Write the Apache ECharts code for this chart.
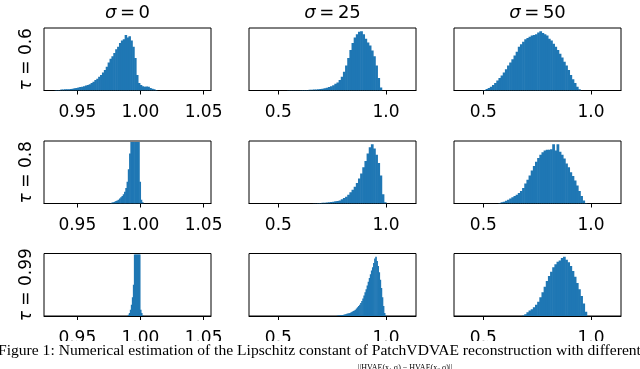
<!DOCTYPE html>
<html>
<head>
<meta charset="utf-8">
<script src="https://cdn.jsdelivr.net/npm/echarts@6/dist/echarts.min.js"></script>
<style>
  html, body { margin: 0; padding: 0; background: #fff; }
  #chart { width: 640px; height: 369px; }
</style>
</head>
<body>
<div id="chart"></div>
<script>
// column headers (sigma) and row labels (tau)
var sigmaLabels = ['0', '25', '50'];
var tauLabels = ['0.6', '0.8', '0.99'];

// x range and ticks per column
var xRanges = [[0.9236, 1.0559], [0.3634, 1.1397], [0.3634, 1.1397]];
var xTicks = [[0.95, 1.00, 1.05], [0.5, 1.0], [0.5, 1.0]];

// histograms: first bin edge, bin width, heights (box height = 1)
// tau = 0.6
var h11Start = 0.932, h11Bin = 0.0015;
var h11 = [0.01, 0.01, 0.01, 0.015, 0.015, 0.02, 0.02, 0.02, 0.025, 0.03,
  0.035, 0.04, 0.05, 0.055, 0.06, 0.07, 0.08, 0.09, 0.10, 0.12,
  0.14, 0.17, 0.19, 0.22, 0.25, 0.29, 0.33, 0.38, 0.45, 0.51,
  0.55, 0.60, 0.66, 0.70, 0.76, 0.80, 0.82, 0.89, 0.85, 0.87,
  0.80, 0.70, 0.52, 0.25, 0.12, 0.09, 0.07, 0.06, 0.065, 0.06,
  0.04, 0.03, 0.02, 0.01];
var h12Start = 0.54, h12Bin = 0.01;
var h12 = [0.003, 0.003, 0.004, 0.005, 0.005, 0.006, 0.007, 0.008, 0.009, 0.01,
  0.012, 0.014, 0.016, 0.018, 0.02, 0.025, 0.03, 0.035, 0.045, 0.055,
  0.07, 0.085, 0.11, 0.13, 0.17, 0.22, 0.30, 0.40, 0.52, 0.65,
  0.76, 0.85, 0.90, 0.94, 0.95, 0.90, 0.83, 0.77, 0.72, 0.64,
  0.55, 0.40, 0.20, 0.05];
var h13Start = 0.49, h13Bin = 0.01;
var h13 = [0.005, 0.01, 0.025, 0.04, 0.06, 0.09, 0.12, 0.16, 0.20, 0.24,
  0.29, 0.34, 0.40, 0.45, 0.50, 0.56, 0.62, 0.70, 0.74, 0.78,
  0.82, 0.84, 0.86, 0.88, 0.89, 0.90, 0.93, 0.95, 0.92, 0.90,
  0.88, 0.83, 0.80, 0.75, 0.70, 0.65, 0.59, 0.53, 0.46, 0.40,
  0.33, 0.25, 0.18, 0.12, 0.06, 0.02];
// tau = 0.8
var h21Start = 0.976, h21Bin = 0.001;
var h21 = [0.01, 0.015, 0.02, 0.03, 0.04, 0.05, 0.06, 0.08, 0.10, 0.12,
  0.15, 0.19, 0.25, 0.35, 0.55, 0.80, 1.2, 1.6, 1.9, 2.0,
  1.9, 1.6, 1.1, 0.35, 0.06, 0.02];
var h22Start = 0.66, h22Bin = 0.01;
var h22 = [0.003, 0.005, 0.007, 0.009, 0.011, 0.013, 0.016, 0.02, 0.025, 0.03,
  0.035, 0.04, 0.05, 0.07, 0.09, 0.11, 0.14, 0.18, 0.22, 0.27,
  0.33, 0.40, 0.48, 0.58, 0.68, 0.80, 0.90, 0.95, 0.88, 0.78,
  0.65, 0.45, 0.15, 0.02];
var h23Start = 0.57, h23Bin = 0.01;
var h23 = [0.01, 0.02, 0.03, 0.045, 0.06, 0.08, 0.10, 0.12, 0.14, 0.17,
  0.20, 0.25, 0.32, 0.38, 0.45, 0.53, 0.60, 0.67, 0.73, 0.78,
  0.82, 0.85, 0.86, 0.86, 0.87, 0.95, 0.85, 0.95, 0.83, 0.78,
  0.72, 0.64, 0.58, 0.50, 0.44, 0.37, 0.29, 0.20, 0.12, 0.05,
  0.01];
// tau = 0.99
var h31Start = 0.990, h31Bin = 0.0008;
var h31 = [0.02, 0.05, 0.10, 0.18, 0.30, 0.50, 1.5, 3.0, 4.0, 4.0,
  3.0, 1.5, 0.10, 0.05, 0.01];
var h32Start = 0.77, h32Bin = 0.005;
var h32 = [0.005, 0.007, 0.009, 0.011, 0.013, 0.016, 0.02, 0.025, 0.03, 0.035,
  0.04, 0.045, 0.05, 0.06, 0.07, 0.08, 0.09, 0.10, 0.12, 0.14,
  0.16, 0.18, 0.21, 0.24, 0.28, 0.33, 0.38, 0.43, 0.49, 0.55,
  0.61, 0.67, 0.73, 0.78, 0.85, 0.92, 0.95, 0.88, 0.80, 0.70,
  0.58, 0.45, 0.30, 0.16, 0.05, 0.01];
var h33Start = 0.68, h33Bin = 0.01;
var h33 = [0.01, 0.03, 0.06, 0.09, 0.11, 0.14, 0.18, 0.23, 0.30, 0.38,
  0.47, 0.56, 0.64, 0.71, 0.78, 0.83, 0.87, 0.89, 0.93, 0.95,
  0.90, 0.86, 0.80, 0.72, 0.63, 0.53, 0.43, 0.32, 0.20, 0.07];

var hists = [
  [[h11Start, h11Bin, h11], [h12Start, h12Bin, h12], [h13Start, h13Bin, h13]],
  [[h21Start, h21Bin, h21], [h22Start, h22Bin, h22], [h23Start, h23Bin, h23]],
  [[h31Start, h31Bin, h31], [h32Start, h32Bin, h32], [h33Start, h33Bin, h33]]
];

var colLeft = [44, 249, 454];
var rowTop = [28, 141, 253.5];
var boxW = 167, boxH = 62.5;
var font = 'DejaVu Sans';

// one histogram bar: [left edge, right edge, height]
function renderBar(params, api) {
  var a = api.coord([api.value(0), api.value(2)]);
  var b = api.coord([api.value(1), 0]);
  var cs = params.coordSys;
  var shape = echarts.graphic.clipRectByRect(
    { x: a[0], y: a[1], width: b[0] - a[0] + 0.6, height: b[1] - a[1] },
    { x: cs.x, y: cs.y + 1, width: cs.width, height: cs.height - 1 }
  );
  return shape && { type: 'rect', shape: shape, style: { fill: '#1f77b4' } };
}

var grids = [], xAxes = [], yAxes = [], series = [], graphics = [];
for (var r = 0; r < 3; r++) {
  for (var c = 0; c < 3; c++) {
    var k = grids.length;
    grids.push({
      left: colLeft[c], top: rowTop[r], width: boxW, height: boxH,
      show: true, borderColor: '#000', borderWidth: 1, backgroundColor: 'transparent'
    });
    xAxes.push({
      type: 'value', gridIndex: k, min: xRanges[c][0], max: xRanges[c][1],
      axisLine: { show: true, onZero: false, lineStyle: { color: '#000', width: 1 } },
      axisTick: { show: true, length: 4, customValues: xTicks[c], lineStyle: { color: '#000' } },
      axisLabel: {
        show: true, customValues: xTicks[c], margin: 14,
        color: '#000', fontSize: 17, fontFamily: font,
        formatter: (function (dec) { return function (v) { return v.toFixed(dec); }; })(c === 0 ? 2 : 1)
      },
      splitLine: { show: false }
    });
    yAxes.push({
      type: 'value', gridIndex: k, min: 0, max: 1,
      axisLine: { show: false }, axisTick: { show: false },
      axisLabel: { show: false }, splitLine: { show: false },
      name: c === 0 ? '{i|τ} = ' + tauLabels[r] : '',
      nameLocation: 'middle', nameGap: 9, nameRotate: 90,
      nameTextStyle: {
        color: '#000', fontSize: 17, fontFamily: font,
        rich: { i: { fontStyle: 'italic', fontSize: 17, fontFamily: font, color: '#000' } }
      }
    });
    var h = hists[r][c];
    var data = h[2].map(function (v, i) {
      return [h[0] + i * h[1], h[0] + (i + 1) * h[1], v];
    });
    series.push({
      type: 'custom', xAxisIndex: k, yAxisIndex: k,
      renderItem: renderBar, data: data, clip: true, silent: true,
      encode: { x: [0, 1], y: 2 }
    });
  }
}

// column titles
for (var c = 0; c < 3; c++) {
  graphics.push({
    type: 'text', x: colLeft[c] + boxW / 2, y: 13,
    style: {
      text: '{i|σ}\u2009=\u2009' + sigmaLabels[c], align: 'center', verticalAlign: 'middle',
      font: '18px "DejaVu Sans"', fill: '#000',
      rich: { i: { fontStyle: 'italic', fontSize: 18, fontFamily: font, fill: '#000' } }
    }
  });
}
// caption strip (covers the bottom row labels like the cropped figure)
graphics.push({
  type: 'rect', z: 100, shape: { x: 0, y: 341, width: 640, height: 28 },
  style: { fill: '#fff' }
});
graphics.push({
  type: 'text', z: 101, x: -2, y: 350.5,
  style: {
    text: 'Figure 1: Numerical estimation of the Lipschitz constant of PatchVDVAE reconstruction with different',
    verticalAlign: 'middle', font: '15.6px "Liberation Serif"', fill: '#000'
  }
});
graphics.push({
  type: 'text', z: 101, x: 358, y: 364,
  style: {
    text: '||HVAE(x\u2081,σ) \u2212 HVAE(x\u2082,σ)||',
    verticalAlign: 'top', font: '8px "Liberation Serif"', fill: '#000'
  }
});

var chart = echarts.init(document.getElementById('chart'), null, { renderer: 'canvas' });
chart.setOption({
  animation: false,
  backgroundColor: '#fff',
  grid: grids,
  xAxis: xAxes,
  yAxis: yAxes,
  series: series,
  graphic: graphics
});
</script>
</body>
</html>
